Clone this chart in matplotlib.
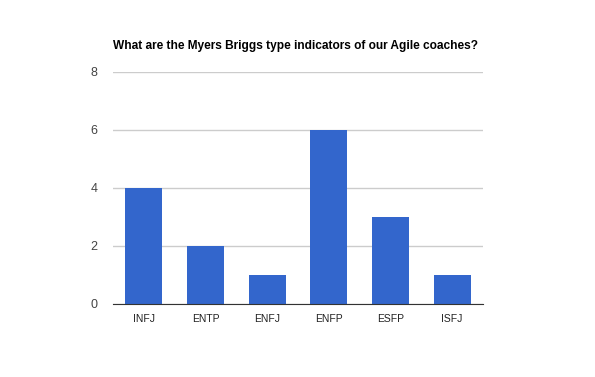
import matplotlib.pyplot as plt

types = ['INFJ', 'ENTP', 'ENFJ', 'ENFP', 'ESFP', 'ISFJ']
counts = [4, 2, 1, 6, 3, 1]
yticks = [0, 2, 4, 6, 8]

plt.rcParams['font.family'] = ['Liberation Sans', 'DejaVu Sans']

fig = plt.figure(figsize=(5.95, 3.77), dpi=100)
ax = fig.add_axes([113/595, 73/377, 370/595, 232/377])

ax.bar(range(len(types)), counts, width=0.6, color='#3366cc', zorder=2)
ax.set_xlim(-0.5, len(types) - 0.5)
ax.set_ylim(0, 8)
ax.set_yticks(yticks)
ax.set_xticks(range(len(types)))
ax.set_xticklabels(types)
ax.grid(axis='y', color='#cccccc', linewidth=1, zorder=0)

for s in ['top', 'right', 'left']:
    ax.spines[s].set_visible(False)
ax.spines['bottom'].set_color('#333333')
ax.spines['bottom'].set_zorder(3)
ax.tick_params(axis='both', length=0, colors='#222222')
ax.tick_params(axis='y', pad=11, labelsize=9, labelcolor='#444444')
ax.tick_params(axis='x', pad=7, labelsize=7.5)

fig.text(113/595, 1 - 46/377, 'What are the Myers Briggs type indicators of our Agile coaches?',
         fontsize=8.6, fontweight='bold', va='center', ha='left')

fig.savefig('out.png', dpi=100)
